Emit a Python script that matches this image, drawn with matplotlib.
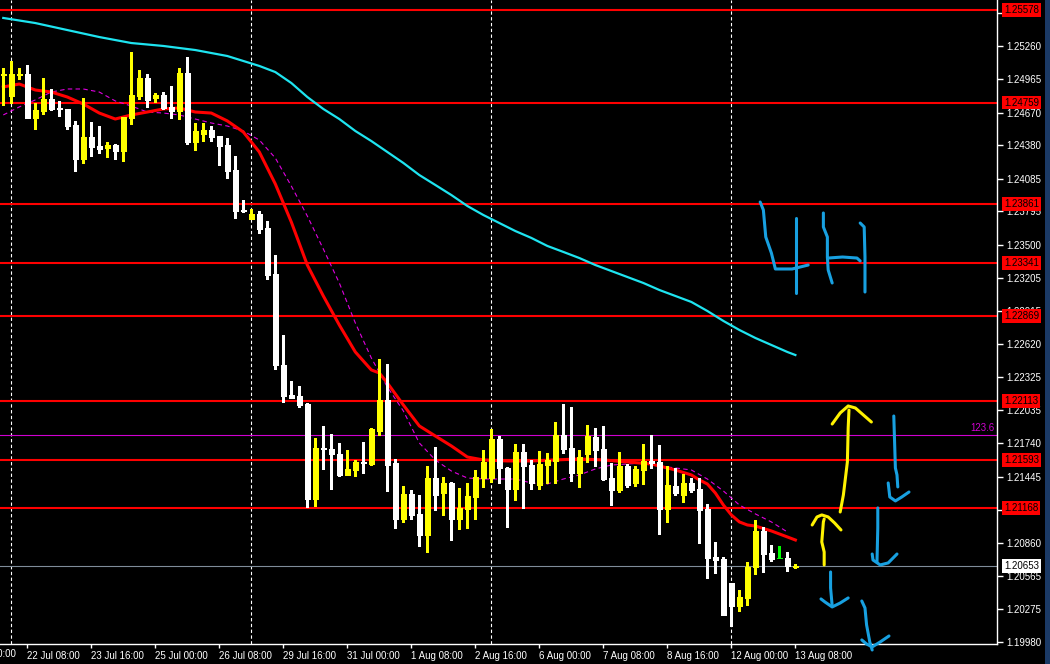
"""
GBPUSD H4 - MT4 style chart with levels, moving averages and hand drawn notes.
Saves out.png at 1050x664.
"""
import matplotlib
matplotlib.use("Agg")
import matplotlib.pyplot as plt
from matplotlib.patches import Rectangle
from matplotlib.transforms import blended_transform_factory, offset_copy

# --- Config ---
BG = "black"
C_BULL = "#FFFF00"
C_BEAR = "#FFFFFF"
C_DOJI = "#00FF00"
C_LEVEL = "#FF0000"
C_MA_FAST = "#FF0000"
C_MA_SLOW = "#1EE4F0"
C_MA_DASH = "#E000E0"
C_FIB = "#D000D0"
C_PRICE = "#7F8C99"
C_PEN_BLUE = "#18A0E0"
C_PEN_YELLOW = "#FFF200"

plt.rcParams.update({
    "font.family": ["Liberation Sans", "DejaVu Sans"],
    "font.size": 7,
})

# --- Data: H4 candles (first bar 19 Jul 20:00, last bar 13 Aug 08:00) ---
opens = [
    1.25003, 1.24817, 1.25003, 1.25012, 1.24622, 1.24684, 1.24790, 1.24711, 1.24702, 1.24560,
    1.24259, 1.24454, 1.24374, 1.24356, 1.24383, 1.24330, 1.24622, 1.24817, 1.24976, 1.24799,
    1.24826, 1.24720, 1.24684, 1.25021, 1.24410, 1.24480, 1.24516, 1.24463, 1.24383, 1.24162,
    1.23807, 1.23728, 1.23772, 1.23648, 1.23241, 1.22435, 1.22169, 1.22160, 1.22090, 1.21248,
    1.21700, 1.21691, 1.21647, 1.21461, 1.21505, 1.21576, 1.21558, 1.21850, 1.22125, 1.21567,
    1.21071, 1.21293, 1.21116, 1.20930, 1.21434, 1.21301, 1.21390, 1.21071, 1.21160, 1.21266,
    1.21434, 1.21434, 1.21780, 1.21523, 1.21337, 1.21665, 1.21549, 1.21372, 1.21549, 1.21585,
    1.21815, 1.21700, 1.21479, 1.21647, 1.21797, 1.21691, 1.21434, 1.21328, 1.21541, 1.21390,
    1.21505, 1.21585, 1.21576, 1.21160, 1.21363, 1.21284, 1.21390, 1.21337, 1.21160, 1.20735,
    1.20717, 1.20505, 1.20301, 1.20372, 1.20646, 1.20965, 1.20770, 1.20726, 1.20726, 1.20650,
]
highs = [
    1.25065, 1.25127, 1.25065, 1.25091, 1.24755, 1.24976, 1.24879, 1.24773, 1.24702, 1.24596,
    1.24799, 1.24587, 1.24551, 1.24410, 1.24392, 1.24631, 1.25207, 1.25047, 1.25012, 1.24843,
    1.24852, 1.24905, 1.25065, 1.25162, 1.24578, 1.24578, 1.24551, 1.24463, 1.24445, 1.24286,
    1.23896, 1.23816, 1.23799, 1.23710, 1.23409, 1.22701, 1.22293, 1.22249, 1.22098, 1.21789,
    1.21895, 1.21824, 1.21744, 1.21682, 1.21594, 1.21753, 1.21877, 1.22488, 1.22444, 1.21603,
    1.21363, 1.21328, 1.21284, 1.21541, 1.21709, 1.21443, 1.21399, 1.21346, 1.21390, 1.21505,
    1.21682, 1.21868, 1.21806, 1.21532, 1.21735, 1.21735, 1.21594, 1.21673, 1.21656, 1.21930,
    1.22090, 1.22063, 1.21682, 1.21904, 1.21877, 1.21895, 1.21567, 1.21665, 1.21558, 1.21541,
    1.21735, 1.21815, 1.21727, 1.21541, 1.21523, 1.21470, 1.21434, 1.21434, 1.21204, 1.20868,
    1.20735, 1.20505, 1.20443, 1.20690, 1.21062, 1.21000, 1.20841, 1.20832, 1.20779, 1.20673,
]
lows = [
    1.24737, 1.24755, 1.24967, 1.24622, 1.24525, 1.24658, 1.24693, 1.24640, 1.24525, 1.24153,
    1.24224, 1.24286, 1.24312, 1.24277, 1.24259, 1.24241, 1.24569, 1.24790, 1.24720, 1.24764,
    1.24702, 1.24622, 1.24613, 1.24392, 1.24339, 1.24418, 1.24418, 1.24206, 1.24091, 1.23737,
    1.23790, 1.23728, 1.23604, 1.23196, 1.22400, 1.22107, 1.22143, 1.22063, 1.21178, 1.21186,
    1.21514, 1.21337, 1.21452, 1.21461, 1.21452, 1.21479, 1.21549, 1.21815, 1.21319, 1.20992,
    1.21045, 1.21071, 1.20832, 1.20779, 1.21151, 1.21107, 1.20885, 1.20983, 1.20992, 1.21071,
    1.21355, 1.21399, 1.21390, 1.21000, 1.21239, 1.21169, 1.21337, 1.21337, 1.21390, 1.21390,
    1.21656, 1.21408, 1.21355, 1.21576, 1.21541, 1.21417, 1.21195, 1.21310, 1.21355, 1.21363,
    1.21381, 1.21523, 1.20938, 1.21045, 1.21284, 1.21222, 1.21310, 1.20859, 1.20549, 1.20593,
    1.20221, 1.20124, 1.20257, 1.20310, 1.20584, 1.20602, 1.20699, 1.20726, 1.20611, 1.20637,
]
closes = [
    1.25012, 1.25012, 1.25012, 1.24622, 1.24693, 1.24790, 1.24702, 1.24702, 1.24551, 1.24259,
    1.24454, 1.24365, 1.24348, 1.24383, 1.24330, 1.24631, 1.24826, 1.24976, 1.24782, 1.24826,
    1.24711, 1.24684, 1.25021, 1.24410, 1.24507, 1.24516, 1.24454, 1.24374, 1.24153, 1.23799,
    1.23799, 1.23772, 1.23639, 1.23232, 1.22435, 1.22160, 1.22143, 1.22081, 1.21248, 1.21700,
    1.21691, 1.21647, 1.21461, 1.21514, 1.21576, 1.21567, 1.21868, 1.22125, 1.21549, 1.21071,
    1.21293, 1.21107, 1.20930, 1.21434, 1.21284, 1.21390, 1.21071, 1.21169, 1.21275, 1.21443,
    1.21576, 1.21780, 1.21523, 1.21337, 1.21665, 1.21541, 1.21390, 1.21558, 1.21594, 1.21815,
    1.21691, 1.21479, 1.21620, 1.21806, 1.21682, 1.21425, 1.21328, 1.21541, 1.21372, 1.21514,
    1.21585, 1.21567, 1.21160, 1.21372, 1.21301, 1.21390, 1.21328, 1.21151, 1.20726, 1.20708,
    1.20221, 1.20301, 1.20381, 1.20646, 1.20965, 1.20761, 1.20717, 1.20726, 1.20655, 1.20653,
]

# fast MA (red), read at bar indices
ma_fast_bars = [0, 2, 4, 6, 8, 10, 12, 14, 16, 18, 20, 22, 24, 26, 28, 30, 32, 34, 36, 38,
                40, 42, 44, 46, 47, 48, 50, 52, 54, 56, 58, 60, 63, 66, 69, 72, 75, 78, 81, 84,
                86, 87, 88, 89, 90, 91, 92, 93, 94, 96, 98, 99]
ma_fast_vals = [1.24897, 1.24923, 1.24870, 1.24852, 1.24808, 1.24746, 1.24666, 1.24613, 1.24649,
                1.24675, 1.24702, 1.24711, 1.24675, 1.24666, 1.24596, 1.24498, 1.24321, 1.24038,
                1.23701, 1.23320, 1.23046, 1.22789, 1.22550, 1.22391, 1.22364, 1.22276, 1.22081,
                1.21895, 1.21806, 1.21718, 1.21620, 1.21594, 1.21585, 1.21585, 1.21594, 1.21603,
                1.21594, 1.21576, 1.21558, 1.21505, 1.21461, 1.21417, 1.21381, 1.21301, 1.21195,
                1.21107, 1.21045, 1.21018, 1.21009, 1.20965, 1.20912, 1.20885]

# slow MA (cyan)
ma_slow_bars = [0, 4, 8, 12, 16, 20, 24, 28, 30, 32, 34, 36, 38, 40, 42, 44, 46, 48, 50, 52,
                54, 56, 58, 60, 62, 64, 66, 68, 70, 72, 74, 76, 78, 80, 82, 84, 86, 88, 90, 92,
                94, 96, 98, 99]
ma_slow_vals = [1.25508, 1.25463, 1.25401, 1.25339, 1.25286, 1.25260, 1.25224, 1.25171, 1.25127,
                1.25083, 1.25029, 1.24932, 1.24808, 1.24702, 1.24613, 1.24507, 1.24418, 1.24321,
                1.24224, 1.24117, 1.24029, 1.23940, 1.23843, 1.23763, 1.23692, 1.23621, 1.23560,
                1.23489, 1.23436, 1.23382, 1.23320, 1.23267, 1.23214, 1.23161, 1.23099, 1.23046,
                1.22993, 1.22913, 1.22825, 1.22745, 1.22674, 1.22612, 1.22550, 1.22523]

# dashed MA (magenta)
ma_dash_bars = list(range(0, 100, 2))
ma_dash_vals = [1.24649, 1.24720, 1.24782, 1.24852, 1.24879, 1.24879, 1.24852, 1.24773, 1.24728,
                1.24675, 1.24666, 1.24649, 1.24613, 1.24578, 1.24551, 1.24507, 1.24427, 1.24268,
                1.24020, 1.23754, 1.23462, 1.23161, 1.22807, 1.22497, 1.22240, 1.22028, 1.21744,
                1.21594, 1.21496, 1.21434, 1.21425, 1.21425, 1.21425, 1.21390, 1.21381, 1.21425,
                1.21461, 1.21514, 1.21549, 1.21558, 1.21567, 1.21541, 1.21523, 1.21505, 1.21425,
                1.21319, 1.21195, 1.21116, 1.21045, 1.20956]

# horizontal levels
levels = [1.25578, 1.24759, 1.23861, 1.23341, 1.22869, 1.22113, 1.21593, 1.21168]
fib_level = 1.21815
fib_label = "123.6"
last_price = 1.20653

# axes
y_ticks = [1.19980, 1.20275, 1.20565, 1.20860, 1.21150, 1.21445, 1.21740, 1.22035, 1.22325,
           1.22620, 1.22915, 1.23205, 1.23500, 1.23795, 1.24085, 1.24380, 1.24670, 1.24965,
           1.25260, 1.25550]
x_tick_bars = [3, 11, 19, 27, 35, 43, 51, 59, 67, 75, 83, 91, 99]
x_tick_labels = ["22 Jul 08:00", "23 Jul 16:00", "25 Jul 00:00", "26 Jul 08:00", "29 Jul 16:00",
                 "31 Jul 00:00", "1 Aug 08:00", "2 Aug 16:00", "6 Aug 00:00", "7 Aug 08:00",
                 "8 Aug 16:00", "12 Aug 00:00", "13 Aug 08:00"]
x_cut_bar = -5
x_cut_label = "19 Jul 00:00"
grid_bars = [1, 31, 61, 91]

# hand drawn notes (bar index, price)
four_a_x = [94.6, 95.0, 95.3, 96.0, 96.5, 98.6, 100.6]
four_a_y = [1.23878, 1.23807, 1.23568, 1.23427, 1.23285, 1.23285, 1.23320]
four_b_x = [99.1, 99.1]
four_b_y = [1.23737, 1.23072]
h_left_x = [102.5, 102.5, 103.0, 103.0, 103.1, 103.6]
h_left_y = [1.23781, 1.23657, 1.23568, 1.23391, 1.23276, 1.23161]
h_bar_x = [103.1, 104.9, 106.7, 107.1]
h_bar_y = [1.23382, 1.23391, 1.23382, 1.23356]
h_right_x = [107.1, 107.6, 107.7, 107.7]
h_right_y = [1.23692, 1.23657, 1.23391, 1.23081]

up_big_x = [104.6, 105.0, 105.5, 105.6, 105.7]
up_big_y = [1.21133, 1.21284, 1.21576, 1.21877, 1.22036]
up_big_head_x = [103.6, 104.6, 105.6, 106.5, 108.5]
up_big_head_y = [1.21912, 1.22010, 1.22072, 1.22054, 1.21930]
up_small_x = [102.6, 102.6, 102.3, 102.5, 102.6]
up_small_y = [1.20664, 1.20779, 1.20868, 1.21045, 1.21071]
up_small_head_x = [101.1, 101.7, 102.3, 103.1, 103.9, 104.7]
up_small_head_y = [1.21018, 1.21089, 1.21107, 1.21089, 1.21036, 1.20974]

dn1_x = [111.3, 111.5, 111.7, 111.8]
dn1_y = [1.21983, 1.21523, 1.21461, 1.21355]
dn1_head_x = [110.6, 110.8, 111.5, 112.3, 113.2]
dn1_head_y = [1.21390, 1.21266, 1.21231, 1.21266, 1.21310]
dn2_x = [109.3, 109.3, 109.2]
dn2_y = [1.21169, 1.20992, 1.20690]
dn2_head_x = [108.6, 108.7, 109.6, 110.6, 111.7]
dn2_head_y = [1.20761, 1.20708, 1.20664, 1.20682, 1.20761]
dn3_x = [103.4, 103.4, 103.6]
dn3_y = [1.20602, 1.20460, 1.20301]
dn3_head_x = [102.2, 102.7, 103.6, 104.6, 105.6]
dn3_head_y = [1.20363, 1.20336, 1.20292, 1.20327, 1.20372]
dn4_x = [107.3, 107.7, 107.9, 108.3, 108.6]
dn4_y = [1.20345, 1.20283, 1.20133, 1.19982, 1.19911]
dn4_head_x = [107.3, 107.9, 108.6, 109.6, 110.7]
dn4_head_y = [1.20000, 1.19964, 1.19938, 1.19982, 1.20035]

# --- Figure ---
W, H = 1050, 664
fig = plt.figure(figsize=(W / 100, H / 100), dpi=100, facecolor=BG)
ax = fig.add_axes([0, 20 / H, 997 / W, 644 / H])
ax.set_facecolor(BG)
ax.set_xlim(-0.41, 124.2)
ax.set_ylim(1.19964, 1.25667)

# window border strip on the right
fig.add_artist(Rectangle((1045 / W, 0), 5 / W, 1, transform=fig.transFigure,
                         facecolor="#1B3A66", edgecolor="none"))

# vertical dotted grid
for gb in grid_bars:
    ax.axvline(gb, color="white", lw=0.8, dashes=(3, 2.2), zorder=1)

# horizontal levels
for lv in levels:
    ax.axhline(lv, color=C_LEVEL, lw=1.5, zorder=2)
ax.axhline(fib_level, color=C_FIB, lw=0.8, zorder=2)
ax.axhline(last_price, color=C_PRICE, lw=0.8, zorder=2)

# moving averages
ax.plot(ma_slow_bars, ma_slow_vals, color=C_MA_SLOW, lw=1.6, zorder=3)
ax.plot(ma_dash_bars, ma_dash_vals, color=C_MA_DASH, lw=0.8, dashes=(4, 3), zorder=3)
ax.plot(ma_fast_bars, ma_fast_vals, color=C_MA_FAST, lw=2.2, zorder=3)

# candles
for i, (o, h, l, c) in enumerate(zip(opens, highs, lows, closes)):
    col = C_BULL if c > o else C_BEAR if c < o else C_DOJI
    ax.vlines(i, l, h, color=col, lw=0.75, zorder=4, antialiased=False)
    ax.bar(i, abs(c - o), bottom=min(o, c), width=0.62, color=col, edgecolor=col,
           lw=0.6, zorder=5, antialiased=False)

# hand drawn notes
strokes = [
    (C_PEN_BLUE, four_a_x, four_a_y), (C_PEN_BLUE, four_b_x, four_b_y),
    (C_PEN_BLUE, h_left_x, h_left_y), (C_PEN_BLUE, h_bar_x, h_bar_y),
    (C_PEN_BLUE, h_right_x, h_right_y),
    (C_PEN_YELLOW, up_big_x, up_big_y), (C_PEN_YELLOW, up_big_head_x, up_big_head_y),
    (C_PEN_YELLOW, up_small_x, up_small_y), (C_PEN_YELLOW, up_small_head_x, up_small_head_y),
    (C_PEN_BLUE, dn1_x, dn1_y), (C_PEN_BLUE, dn1_head_x, dn1_head_y),
    (C_PEN_BLUE, dn2_x, dn2_y), (C_PEN_BLUE, dn2_head_x, dn2_head_y),
    (C_PEN_BLUE, dn3_x, dn3_y), (C_PEN_BLUE, dn3_head_x, dn3_head_y),
    (C_PEN_BLUE, dn4_x, dn4_y), (C_PEN_BLUE, dn4_head_x, dn4_head_y),
]
for col, xs, ys in strokes:
    ax.plot(xs, ys, color=col, lw=2.2, solid_capstyle="round", solid_joinstyle="round",
            zorder=8, clip_on=False)

# --- Axes styling ---
for side in ("top", "left"):
    ax.spines[side].set_visible(False)
for side in ("right", "bottom"):
    ax.spines[side].set_color("white")
    ax.spines[side].set_linewidth(1)

ax.yaxis.tick_right()
ax.set_yticks(y_ticks)
ax.set_yticklabels([f"{t:.5f}" for t in y_ticks])
ax.tick_params(axis="y", colors="white", length=4, width=1, pad=3, labelsize=7)

ax.set_xticks(x_tick_bars)
ax.set_xticklabels(x_tick_labels)
ax.tick_params(axis="x", colors="white", length=3, width=1, pad=2, labelsize=7)
for lab in ax.get_xticklabels():
    lab.set_horizontalalignment("left")

# partly hidden first date label
cut_tr = offset_copy(blended_transform_factory(ax.transData, ax.transAxes),
                     fig=fig, x=0, y=-5, units="dots")
ax.text(x_cut_bar, 0, x_cut_label, transform=cut_tr, color="white", fontsize=7,
        ha="left", va="top", clip_on=False)

# price labels on the right scale
for lv in levels:
    ax.annotate(f"{lv:.5f}", xy=(1, lv), xycoords=("axes fraction", "data"),
                xytext=(7, 0), textcoords="offset pixels", va="center", ha="left",
                color="black", fontsize=7, annotation_clip=False, zorder=10,
                bbox=dict(boxstyle="square,pad=0.2", facecolor=C_LEVEL, edgecolor="none"))
ax.annotate(f"{last_price:.5f}", xy=(1, last_price), xycoords=("axes fraction", "data"),
            xytext=(7, 0), textcoords="offset pixels", va="center", ha="left",
            color="black", fontsize=7, annotation_clip=False, zorder=10,
            bbox=dict(boxstyle="square,pad=0.2", facecolor="white", edgecolor="none"))

# fib level tag
ax.annotate(fib_label, xy=(1, fib_level), xycoords=("axes fraction", "data"),
            xytext=(-2, 2), textcoords="offset pixels", va="bottom", ha="right",
            color=C_FIB, fontsize=7, zorder=10)

fig.savefig("out.png", dpi=100, facecolor=BG)
